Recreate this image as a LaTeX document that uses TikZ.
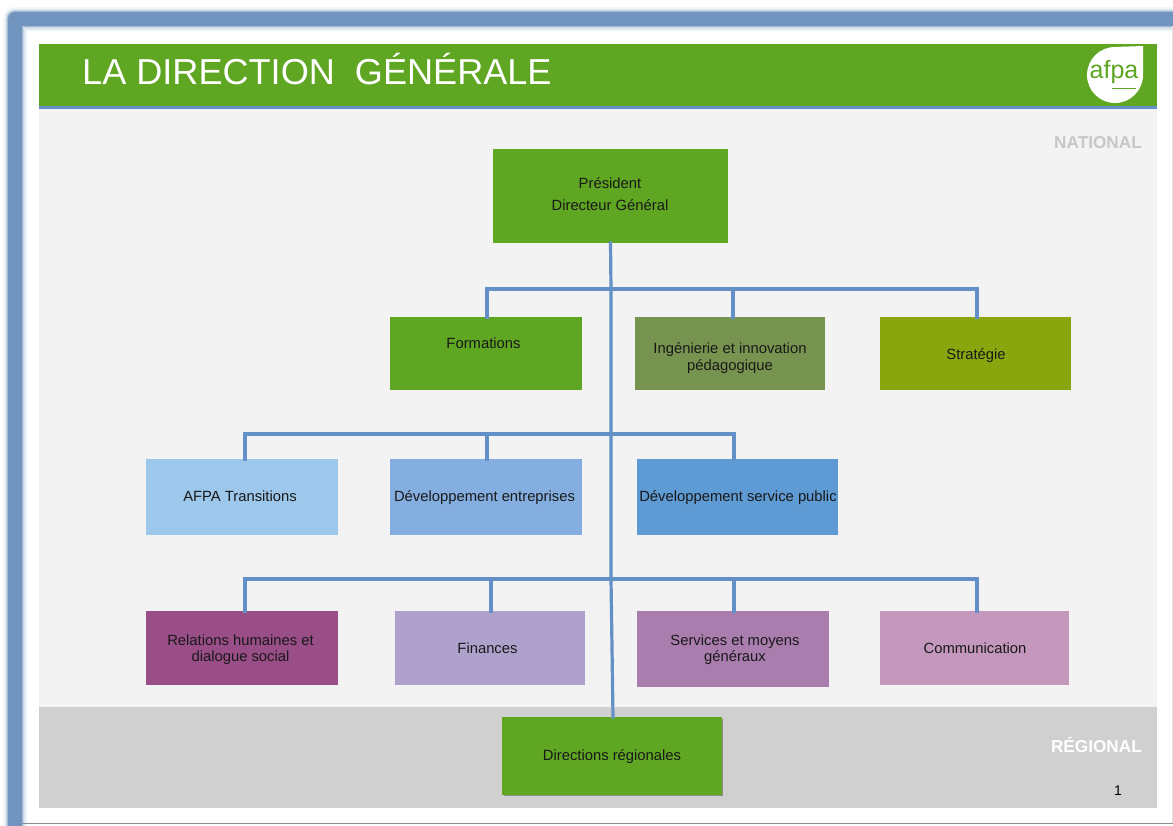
\documentclass[tikz,border=0pt]{standalone}
\usepackage{fontspec}
\setmainfont{Liberation Sans}
\definecolor{hgreen}{HTML}{5FA622}
\definecolor{cing}{HTML}{76944F}
\definecolor{cstr}{HTML}{8AA60F}
\definecolor{cafpa}{HTML}{9DC8EB}
\definecolor{cdev}{HTML}{83AEDF}
\definecolor{csp}{HTML}{5E9AD3}
\definecolor{crh}{HTML}{9A4E87}
\definecolor{cfin}{HTML}{AEA2CC}
\definecolor{csrv}{HTML}{A97DAE}
\definecolor{ccom}{HTML}{C497BD}
\definecolor{frameblue}{HTML}{7195BF}
\definecolor{lineblue}{HTML}{6390C6}
\definecolor{panel}{HTML}{F3F3F3}
\definecolor{regio}{HTML}{D0D0D0}
\tikzset{
  box/.style={anchor=north west,inner sep=0pt,outer sep=0pt},
  lbl/.style={inner sep=0pt,align=center,font=\fontsize{14.8}{#1}\selectfont,text=black!90},
  lbl/.default=16.5,
  conn/.style={draw=lineblue,line width=3.2pt,line cap=rect},
  tag/.style={font=\bfseries\fontsize{17.2}{19}\selectfont,anchor=east,inner sep=0pt}
}
% name, x1, y1, x2, y2, colour
\newcommand{\bx}[6]{%
  \pgfmathsetmacro{\bw}{#4-#2}\pgfmathsetmacro{\bh}{#5-#3}
  \node[box,fill=#6,minimum width=\bw pt,minimum height=\bh pt] (#1) at (#2,#3) {};}
\begin{document}
\begin{tikzpicture}[x=1pt,y=-1pt]
\useasboundingbox (0,0) rectangle (1173,825);
\fill[white] (0,0) rectangle (1173,825);
% blurred frame
\foreach \w/\o in {24/8,21/14,18/22,16/40,14/100}{
  \draw[frameblue,opacity=\o/100,line width=\w pt,line join=round] (15,1300) -- (15,19) -- (1400,19);
}
\draw[black!45,line width=1.5pt] (22,823.5) -- (1173,823.5);
\draw[black!12,line width=1pt] (1172,26) -- (1172,823);
% panels
\fill[panel] (39,106) rectangle (1157,707);
\fill[regio] (39,707) rectangle (1157,808);
\fill[hgreen] (39,44) rectangle (1157,106);
\fill[lineblue] (39,106) rectangle (1157,108.5);
\node[anchor=west,inner sep=0pt,text=white,font=\fontsize{36.1}{38}\selectfont] (title) at (82,69) {LA DIRECTION\ \ GÉNÉRALE};
% logo
\fill[white] (1143,46) -- (1143,75) arc[start angle=0,end angle=270,radius=28] -- cycle;
\node[inner sep=0pt,text=hgreen,font=\fontsize{25}{25}\selectfont] (logo) at (1114,72) {afpa};
\draw[hgreen,line width=1pt] (1112,88) -- (1136,88);
% tags
\node[tag,text=black!22] (nat) at (1142,143) {NATIONAL};
\node[tag,text=white] (reg) at (1142,745) {RÉGIONAL};
\node[inner sep=0pt,font=\fontsize{14}{14}\selectfont] (num) at (1118,791) {1};
% boxes
\bx{pres}{493}{149}{728}{243}{hgreen}
\bx{form}{390}{317}{582}{390}{hgreen}
\bx{ing}{635}{317}{825}{390}{cing}
\bx{strat}{880}{317}{1071}{390}{cstr}
\bx{afpa}{146}{459}{338}{535}{cafpa}
\bx{dev}{390}{459}{582}{535}{cdev}
\bx{sp}{637}{459}{838}{535}{csp}
\bx{rh}{146}{611}{338}{685}{crh}
\bx{fin}{395}{611}{585}{685}{cfin}
\bx{srv}{637}{611}{829}{687}{csrv}
\bx{com}{880}{611}{1069}{685}{ccom}
\fill[black!45] (504,719) rectangle (723,796);
\bx{dir}{502}{717}{722}{795}{hgreen}
% labels
\node[lbl=22] (tpres) at (610,194) {Président\\Directeur Général};
\node[lbl] (tform) at (483.5,343) {Formations};
\node[lbl=17] (ting) at (730,358) {Ingénierie et innovation\\pédagogique};
\node[lbl] (tstrat) at (976,356) {Stratégie};
\node[lbl] (tafpa) at (240,496) {AFPA Transitions};
\node[lbl] (tdev) at (484.5,498) {Développement entreprises};
\node[lbl] (tsp) at (738,498) {Développement service public};
\node[lbl=16] (trh) at (240.5,650) {Relations humaines et\\dialogue social};
\node[lbl] (tfin) at (487.5,648) {Finances};
\node[lbl=16] (tsrv) at (735,650) {Services et moyens\\généraux};
\node[lbl] (tcom) at (975,648) {Communication};
\node[lbl] (tdir) at (612,757) {Directions régionales};
% connectors
\coordinate (b1) at (611,289);
\coordinate (b2) at (611,434);
\coordinate (b3) at (611,579);
\draw[conn] (pres.south) -- (b1) -- (b2) -- (b3) -- (613,717);
\draw[conn] ([xshift=1pt]form.north) |- (b1);
\draw[conn] ([xshift=3pt]ing.north) |- (b1);
\draw[conn] ([xshift=1.5pt]strat.north) |- (b1);
\draw[conn] ([xshift=3pt]afpa.north) |- (b2);
\draw[conn] ([xshift=1pt]dev.north) |- (b2);
\draw[conn] ([xshift=-3.5pt]sp.north) |- (b2);
\draw[conn] ([xshift=3pt]rh.north) |- (b3);
\draw[conn] ([xshift=1pt]fin.north) |- (b3);
\draw[conn] ([xshift=1pt]srv.north) |- (b3);
\draw[conn] ([xshift=2.5pt]com.north) |- (b3);
\end{tikzpicture}
\end{document}
